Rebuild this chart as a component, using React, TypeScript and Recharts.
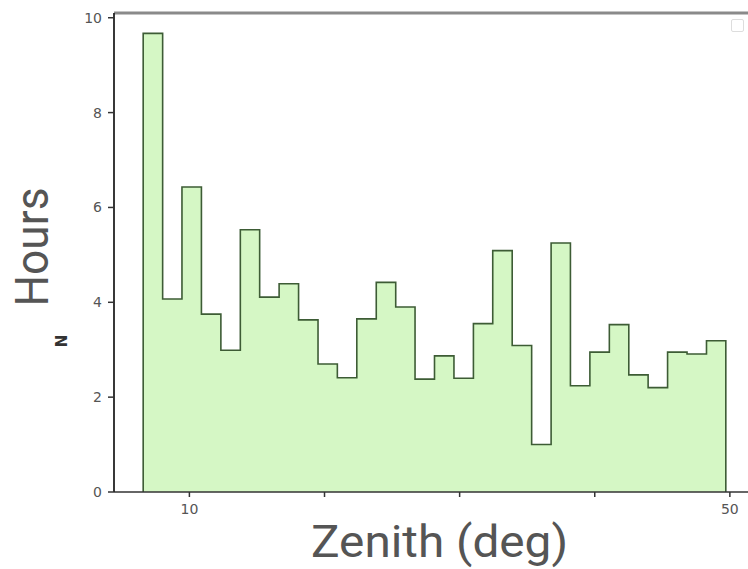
import { Area, ComposedChart, Label, ReferenceLine, XAxis, YAxis } from 'recharts'

// bin edges (deg)
const binEdges = [
  6.58, 8.02, 9.45, 10.89, 12.33, 13.77, 15.2, 16.64, 18.08, 19.52, 20.95,
  22.39, 23.83, 25.27, 26.7, 28.14, 29.58, 31.02, 32.45, 33.89, 35.33, 36.77,
  38.2, 39.64, 41.08, 42.52, 43.95, 45.39, 46.83, 48.27, 49.7,
]

// hours per zenith bin
const hours = [
  9.67, 4.07, 6.43, 3.75, 2.99, 5.53, 4.11, 4.39, 3.63, 2.7, 2.41, 3.65, 4.42,
  3.9, 2.38, 2.87, 2.4, 3.55, 5.09, 3.09, 1.0, 5.25, 2.24, 2.95, 3.53, 2.47,
  2.2, 2.95, 2.91, 3.19,
]

const xTicks = [10, 20, 30, 40, 50]
const xLabelled = [10, 50]
const yTicks = [0, 2, 4, 6, 8, 10]

const last = binEdges.length - 1

// step outline: rise at first edge, drop at last edge
const steps = [
  { z: binEdges[0], n: 0 },
  ...hours.map((h, i) => ({ z: binEdges[i], n: h })),
  { z: binEdges[last], n: hours[hours.length - 1] },
  { z: binEdges[last], n: 0 },
]

const tickStyle = { fontSize: 14, fill: '#555', fontFamily: 'DejaVu Sans' }

export default function App() {
  return (
    <div
      style={{
        position: 'absolute',
        left: 0,
        top: 0,
        width: 748,
        height: 569,
        overflow: 'hidden',
        background: '#fff',
      }}
    >
      <ComposedChart
        width={760}
        height={569}
        data={steps}
        margin={{ top: 13, right: 5, bottom: 47, left: 84 }}
      >
        <ReferenceLine y={10.1} stroke="#8a8a8a" strokeWidth={3} />
        <Area
          type="stepAfter"
          dataKey="n"
          stroke="#3d5c35"
          strokeWidth={1.6}
          fill="#d5f7c5"
          fillOpacity={1}
          dot={false}
          activeDot={false}
          isAnimationActive={false}
        />
        <XAxis
          dataKey="z"
          type="number"
          domain={[4.42, 51.86]}
          allowDataOverflow
          ticks={xTicks}
          tickFormatter={(v: number) => (xLabelled.includes(v) ? String(v) : '')}
          height={30}
          tickSize={5}
          tickMargin={7}
          tick={tickStyle}
          axisLine={{ stroke: '#333', strokeWidth: 1.5 }}
          tickLine={{ stroke: '#333', strokeWidth: 1.5 }}
        >
          <Label
            content={() => (
              <text
                x={311}
                y={557}
                textLength={257}
                lengthAdjust="spacingAndGlyphs"
                fontSize={45}
                fontFamily="Roboto"
                fill="#555"
              >
                Zenith (deg)
              </text>
            )}
          />
        </XAxis>
        <YAxis
          type="number"
          domain={[0, 10.1]}
          ticks={yTicks}
          width={30}
          tickSize={6}
          tickMargin={6}
          tick={tickStyle}
          axisLine={{ stroke: '#222', strokeWidth: 1.8 }}
          tickLine={{ stroke: '#333', strokeWidth: 1.5 }}
        >
          <Label
            content={() => (
              <g>
                <text
                  x={48}
                  y={247}
                  transform="rotate(-90 48 247)"
                  textAnchor="middle"
                  textLength={119}
                  lengthAdjust="spacingAndGlyphs"
                  fontSize={47}
                  fontFamily="Roboto"
                  fill="#555"
                >
                  Hours
                </text>
                <text
                  x={67}
                  y={341}
                  transform="rotate(-90 67 341)"
                  textAnchor="middle"
                  fontSize={15}
                  fontWeight="bold"
                  fontFamily="DejaVu Sans"
                  fill="#333"
                >
                  N
                </text>
              </g>
            )}
          />
        </YAxis>
      </ComposedChart>
      <div
        style={{
          position: 'absolute',
          left: 731,
          top: 19,
          width: 11,
          height: 11,
          border: '1.5px solid #ddd',
          borderRadius: 2,
        }}
      />
    </div>
  )
}
